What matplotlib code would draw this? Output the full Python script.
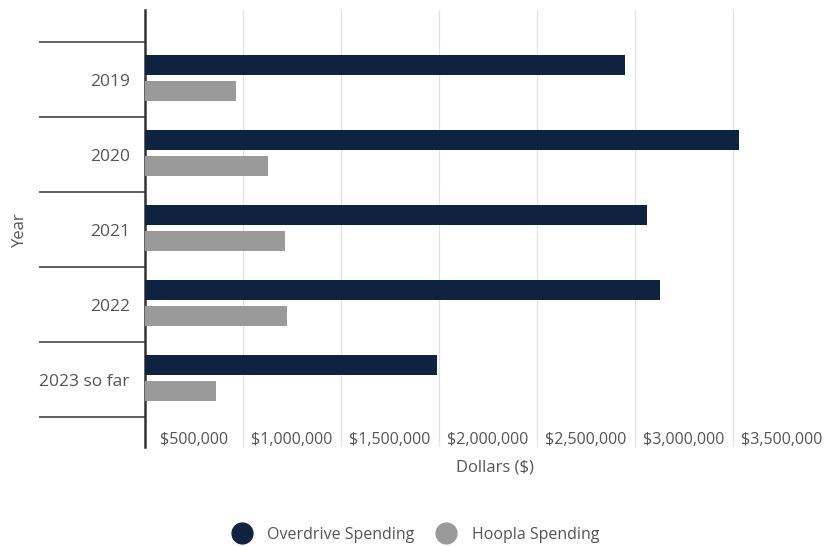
import numpy as np
import matplotlib.pyplot as plt
from matplotlib.lines import Line2D

plt.rcParams['font.family'] = ['Open Sans', 'DejaVu Sans']

# Data
years = ['2019', '2020', '2021', '2022', '2023 so far']
overdrive = [2450000, 3030000, 2560000, 2630000, 1490000]
hoopla = [465000, 628000, 714000, 724000, 362000]
tick_values = [500000, 1000000, 1500000, 2000000, 2500000, 3000000, 3500000]

navy = '#0f2340'
grey = '#9a9a9a'
text_col = '#555555'

fig = plt.figure(figsize=(8.25, 5.46), dpi=100)
ax = fig.add_axes([145 / 825, 1 - 447 / 546, 1 - 145 / 825, 437 / 546])

y = np.arange(len(years))
h = 0.27
ax.barh(y - 0.19, overdrive, height=h, color=navy, zorder=3)
ax.barh(y + 0.15, hoopla, height=h, color=grey, zorder=3)

ax.set_xlim(0, 3470000)
ax.set_ylim(4.9, -0.927)

# vertical gridlines
for v in tick_values:
    ax.axvline(v, color='#e2e2e2', linewidth=0.9, zorder=0)

# x tick labels sit between gridlines, inside the plot area
ax.set_xticks([])
ax.set_xticks([v - 250000 for v in tick_values], minor=True)
ax.set_xticklabels(['${:,.0f}'.format(v) for v in tick_values], minor=True,
                   fontsize=11.5, color=text_col)
ax.tick_params(axis='x', which='minor', length=0, pad=-11)

# y: long ticks at category boundaries, labels at centres
ax.set_yticks(np.arange(-0.5, len(years), 1.0))
ax.set_yticklabels([])
ax.tick_params(axis='y', which='major', length=76, width=1.2, color='#444444', direction='out')
ax.set_yticks(y, minor=True)
ax.set_yticklabels(years, minor=True, fontsize=12.5, color=text_col)
ax.tick_params(axis='y', which='minor', length=0, pad=11)

for s in ['top', 'right', 'bottom']:
    ax.spines[s].set_visible(False)
ax.spines['left'].set_color('#333333')
ax.spines['left'].set_linewidth(1.8)

fig.text(495 / 825, 1 - 468 / 546, 'Dollars ($)', ha='center', va='center',
         fontsize=12, color=text_col)
fig.text(20 / 825, 1 - 230 / 546, 'Year', rotation=90, ha='center', va='center',
         fontsize=12, color=text_col)

handles = [Line2D([], [], marker='o', linestyle='', markersize=15, color=navy),
           Line2D([], [], marker='o', linestyle='', markersize=15, color=grey)]
fig.legend(handles, ['Overdrive Spending', 'Hoopla Spending'], loc='center',
           bbox_to_anchor=(0.5, 1 - 535 / 546), ncol=2, frameon=False,
           fontsize=11.5, labelcolor=text_col, handletextpad=0.6, columnspacing=1.0)

fig.savefig('out.png', dpi=100)
